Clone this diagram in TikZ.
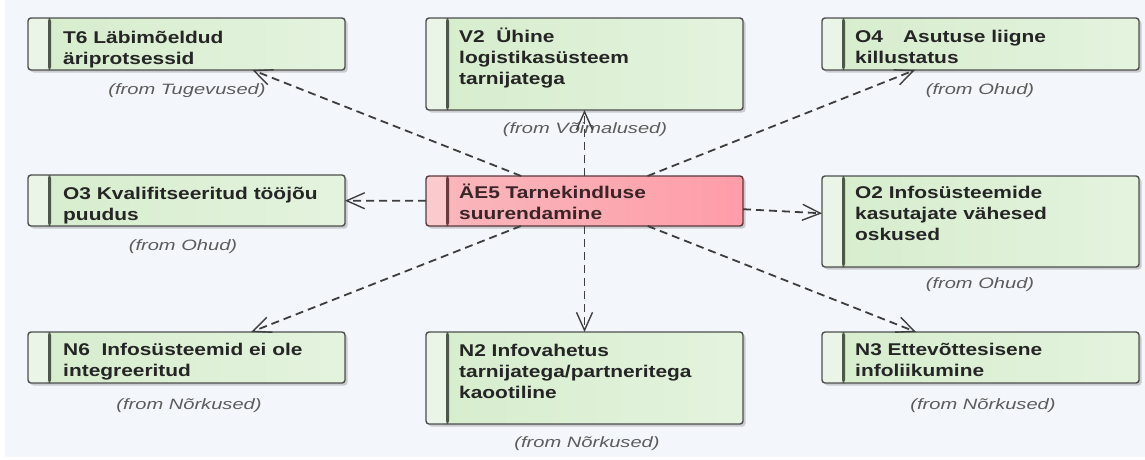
\documentclass[tikz,border=0pt]{standalone}
\usepackage{fontspec}
\setmainfont{Liberation Sans}
\newfontfamily\boxfont[FakeStretch=1.23]{Liberation Sans}
\newfontfamily\fromfont[FakeStretch=1.34]{Liberation Sans}
\usetikzlibrary{arrows.meta,shadows}

\definecolor{canvas}{HTML}{F3F6FA}
\definecolor{gfillL}{HTML}{D6EDCD}
\definecolor{gfillR}{HTML}{E4F3DE}
\definecolor{gstrip}{HTML}{EBF5E7}
\definecolor{gbar}{HTML}{4C5749}
\definecolor{pfillL}{HTML}{F8B8BD}
\definecolor{pfillR}{HTML}{FF9DA9}
\definecolor{pstrip}{HTML}{FACACD}
\definecolor{pbar}{HTML}{6A3A40}
\definecolor{edge}{HTML}{4E4E4E}
\definecolor{pedge}{HTML}{5A3A3E}
\definecolor{txt}{HTML}{252525}
\definecolor{ptxt}{HTML}{3A2427}
\definecolor{fromtxt}{HTML}{5C5C5C}
\definecolor{link}{HTML}{3E3E3E}

\tikzset{
  elem/.style 2 args={
    line width=1.4pt, rounded corners=3pt, inner sep=0pt, outer sep=0pt,
    anchor=north west, minimum width=317pt,
    drop shadow={shadow xshift=2.5pt, shadow yshift=-2.5pt, opacity=0.25, fill=black!70},
    path picture={
      \fill[#1] (path picture bounding box.north west)
        rectangle ([xshift=20pt]path picture bounding box.south west);
      \fill[#2] ([xshift=20pt]path picture bounding box.north west)
        rectangle ([xshift=23pt]path picture bounding box.south west);
    }},
  greenbox/.style={elem={gstrip}{gbar}, draw=edge, left color=gfillL, right color=gfillR},
  pinkbox/.style={elem={pstrip}{pbar}, draw=pedge, left color=pfillL, right color=pfillR},
  btext/.style={anchor=north west, inner sep=0pt, align=left, text=txt,
    font={\boxfont\bfseries\fontsize{17}{21}\selectfont}},
  fromlbl/.style={anchor=base, inner sep=0pt, text=fromtxt,
    font={\fromfont\itshape\fontsize{15}{18}\selectfont}},
  deplink/.style={draw=link, line width=1.8pt, dash pattern=on 8pt off 5pt,
    -{Straight Barb[length=18pt,width=16pt,line width=1.4pt]}}
}
\newcommand{\fl}{\rule{0pt}{15pt}}

\begin{document}
\begin{tikzpicture}[x=1pt,y=-1pt]
  % canvas
  \useasboundingbox (0,0) rectangle (1145,459);
  \fill[white] (0,0) rectangle (1145,459);
  \fill[canvas] (5,0) rectangle (1145,457);

  % element boxes
  \node[greenbox, minimum height=52pt] (t6) at (28,18) {};
  \node[greenbox, minimum height=92pt] (v2) at (426,18) {};
  \node[greenbox, minimum height=52pt] (o4) at (822,18) {};
  \node[greenbox, minimum height=51pt] (o3) at (28,175) {};
  \node[pinkbox,  minimum height=50pt] (ae5) at (426,176) {};
  \node[greenbox, minimum height=91pt] (o2) at (822,176) {};
  \node[greenbox, minimum height=51pt] (n6) at (28,332) {};
  \node[greenbox, minimum height=92pt] (n2) at (426,332) {};
  \node[greenbox, minimum height=51pt] (n3) at (822,332) {};

  % element names
  \node[btext] (t6txt) at (63,28) {\fl T6 Läbimõeldud\\äriprotsessid};
  \node[btext] (v2txt) at (459,27) {\fl V2\ \ Ühine\\logistikasüsteem\\tarnijatega};
  \node[btext] (o4txt) at (855,27) {\fl O4\hspace{20pt}Asutuse liigne\\killustatus};
  \node[btext] (o3txt) at (63,184) {\fl O3 Kvalifitseeritud tööjõu\\puudus};
  \node[btext, text=ptxt] (ae5txt) at (459,183) {\fl ÄE5 Tarnekindluse\\suurendamine};
  \node[btext] (o2txt) at (855,183) {\fl O2 Infosüsteemide\\kasutajate vähesed\\oskused};
  \node[btext] (n6txt) at (63,340) {\fl N6\ \ Infosüsteemid ei ole\\integreeritud};
  \node[btext] (n2txt) at (459,341) {\fl N2 Infovahetus\\tarnijatega/partneritega\\kaootiline};
  \node[btext] (n3txt) at (855,340) {\fl N3 Ettevõttesisene\\infoliikumine};

  % package labels
  \node[fromlbl] (t6from) at (187,94) {(from Tugevused)};
  \node[fromlbl] (v2from) at (585,133) {(from Võimalused)};
  \node[fromlbl] (o4from) at (980,94) {(from Ohud)};
  \node[fromlbl] (o3from) at (183,250) {(from Ohud)};
  \node[fromlbl] (o2from) at (980,288) {(from Ohud)};
  \node[fromlbl] (n6from) at (189,409) {(from Nõrkused)};
  \node[fromlbl] (n2from) at (587,447) {(from Nõrkused)};
  \node[fromlbl] (n3from) at (983,409) {(from Nõrkused)};

  % dependencies
  \draw[deplink] (ae5) -- (t6);
  \draw[deplink] (ae5) -- (v2);
  \draw[deplink] (ae5) -- (o4);
  \draw[deplink] (ae5) -- (o3);
  \draw[deplink] (ae5) -- (o2);
  \draw[deplink] (ae5) -- (n6);
  \draw[deplink] (ae5) -- (n2);
  \draw[deplink] (ae5) -- (n3);
\end{tikzpicture}
\end{document}
